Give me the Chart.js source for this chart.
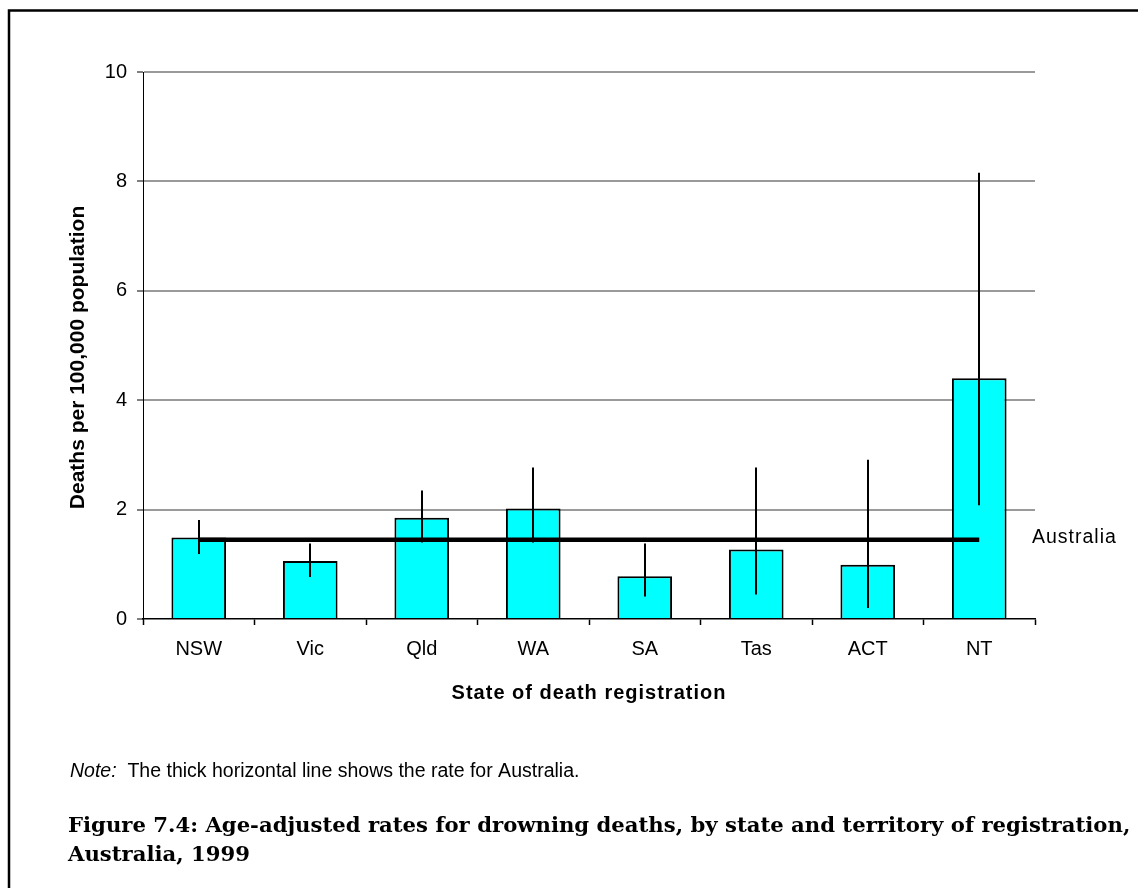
<!DOCTYPE html>
<html>
<head>
<meta charset="utf-8">
<script src="https://cdn.jsdelivr.net/npm/chart.js@4/dist/chart.umd.min.js"></script>
<style>
  html, body { margin: 0; padding: 0; background: #ffffff; }
  #wrap { position: relative; width: 1138px; height: 888px; }
  canvas { display: block; }
</style>
</head>
<body>
<div id="wrap"><canvas id="chart" width="1138" height="888"></canvas></div>
<script>
// Age-adjusted drowning death rates per 100,000, by state of registration, 1999
const categories = ['NSW', 'Vic', 'Qld', 'WA', 'SA', 'Tas', 'ACT', 'NT'];
const rates      = [1.49, 1.06, 1.85, 2.02, 0.78, 1.27, 0.99, 4.40];
const lowerCI    = [1.19, 0.77, 1.40, 1.40, 0.41, 0.45, 0.20, 2.08];
const upperCI    = [1.81, 1.38, 2.35, 2.77, 1.38, 2.77, 2.91, 8.16];
const australiaRate = 1.45;
const yTickValues = [0, 2, 4, 6, 8, 10];

const yTitle = 'Deaths per 100,000 population';
const xTitle = 'State of death registration';
const lineLabel = 'Australia';
const noteLead = 'Note:';
const noteText = 'The thick horizontal line shows the rate for Australia.';
const captionLines = [
  'Figure 7.4: Age-adjusted rates for drowning deaths, by state and territory of registration,',
  'Australia, 1999'
];

const SANS = '"Liberation Sans", Arial, sans-serif';
const SERIF = '"DejaVu Serif", "Liberation Serif", serif';

// Confidence-interval whiskers drawn over the bars
const errorBars = {
  id: 'errorBars',
  afterDatasetsDraw(chart) {
    const { ctx, scales: { x, y } } = chart;
    ctx.save();
    ctx.strokeStyle = '#000';
    ctx.lineWidth = 2;
    categories.forEach((c, i) => {
      const px = Math.round(x.getPixelForValue(i));
      ctx.beginPath();
      ctx.moveTo(px, y.getPixelForValue(lowerCI[i]));
      ctx.lineTo(px, y.getPixelForValue(upperCI[i]));
      ctx.stroke();
    });
    ctx.restore();
  }
};

// Letter-spaced x-axis title, y-axis title, label for the national line, frame, note and caption
const decorations = {
  id: 'decorations',
  beforeDraw(chart) {
    const s = chart.scales.x;
    if (s && !s._spaced) {
      const orig = s.drawTitle.bind(s);
      s.drawTitle = function () {
        chart.ctx.save();
        chart.ctx.letterSpacing = '1px';
        orig();
        chart.ctx.restore();
      };
      s._spaced = true;
    }
  },
  afterDraw(chart) {
    const { ctx, chartArea, scales: { y } } = chart;
    ctx.save();
    // frame
    ctx.strokeStyle = '#000';
    ctx.lineWidth = 2.5;
    ctx.beginPath();
    ctx.moveTo(9, 888);
    ctx.lineTo(9, 10.5);
    ctx.lineTo(1138, 10.5);
    ctx.stroke();

    ctx.fillStyle = '#000';

    // y-axis title, rotated
    ctx.save();
    ctx.translate(78, (chartArea.top + chartArea.bottom) / 2 + 12);
    ctx.rotate(-Math.PI / 2);
    ctx.font = 'bold 21px ' + SANS;
    ctx.textAlign = 'center';
    ctx.textBaseline = 'middle';
    ctx.fillText(yTitle, 0, 0);
    ctx.restore();

    // line label
    ctx.font = '19.5px ' + SANS;
    ctx.letterSpacing = '1px';
    ctx.textAlign = 'left';
    ctx.textBaseline = 'middle';
    ctx.fillText(lineLabel, chartArea.right - 3, y.getPixelForValue(australiaRate) - 2);
    ctx.letterSpacing = '0px';

    // note
    ctx.textBaseline = 'alphabetic';
    ctx.font = 'italic 19.5px ' + SANS;
    ctx.fillText(noteLead, 70, 777);
    const w = ctx.measureText(noteLead + '  ').width;
    ctx.font = '19.5px ' + SANS;
    ctx.fillText(noteText, 70 + w, 777);

    // caption
    ctx.font = 'bold 21.2px ' + SERIF;
    ctx.fillText(captionLines[0], 68, 832);
    ctx.fillText(captionLines[1], 68, 861);
    ctx.restore();
  }
};

new Chart(document.getElementById('chart'), {
  data: {
    labels: categories,
    datasets: [
      {
        type: 'line',
        label: 'Australia',
        data: categories.map(() => australiaRate),
        borderColor: '#000',
        borderWidth: 4.5,
        pointRadius: 0,
        fill: false,
        order: 0
      },
      {
        type: 'bar',
        label: 'Rate',
        data: rates,
        backgroundColor: '#00ffff',
        borderColor: '#000',
        borderWidth: 2,
        borderSkipped: 'bottom',
        categoryPercentage: 1,
        barPercentage: 0.49,
        order: 1
      }
    ]
  },
  options: {
    responsive: false,
    animation: false,
    devicePixelRatio: 1,
    layout: { padding: { left: 0, top: 72, right: 103, bottom: 169 } },
    plugins: {
      legend: { display: false },
      tooltip: { enabled: false }
    },
    scales: {
      x: {
        offset: true,
        grid: {
          offset: true,
          drawOnChartArea: false,
          drawTicks: true,
          tickLength: 6,
          tickColor: '#000',
          tickWidth: 1.5
        },
        border: { color: '#000', width: 1.5 },
        ticks: {
          color: '#000',
          padding: 12,
          maxRotation: 0,
          font: { family: SANS, size: 20 }
        },
        title: {
          display: true,
          text: xTitle,
          color: '#000',
          padding: { top: 0, bottom: 14 },
          font: { family: SANS, size: 20, weight: 'bold' }
        },
        afterFit(scale) { scale.height = 100; }
      },
      y: {
        min: 0,
        max: 10,
        afterBuildTicks(scale) { scale.ticks = yTickValues.map(v => ({ value: v })); },
        grid: {
          color: ctx => (ctx.tick && ctx.tick.value === 0) ? 'rgba(0,0,0,0)' : '#9a9a9a',
          lineWidth: 2,
          drawTicks: true,
          tickLength: 6,
          tickColor: '#000',
          tickWidth: 1
        },
        border: { color: '#000', width: 1 },
        ticks: {
          color: '#000',
          padding: 10,
          font: { family: SANS, size: 20 }
        },
        title: { display: false },
        afterFit(scale) { scale.width = 143; }
      }
    }
  },
  plugins: [errorBars, decorations]
});
</script>
</body>
</html>
